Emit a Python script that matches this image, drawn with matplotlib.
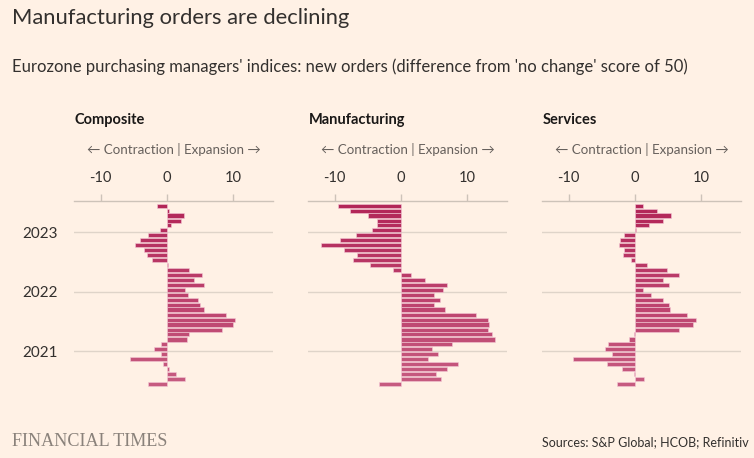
import numpy as np
import pandas as pd
import matplotlib
matplotlib.use("Agg")
import matplotlib.pyplot as plt
import matplotlib.dates as mdates
from matplotlib.colors import to_rgb

# monthly new orders index minus 50, oldest (Jun 2020) to newest (Jun 2023)
months = pd.date_range("2020-06-01", "2023-06-01", freq="MS") + pd.Timedelta(days=14)

composite = [-2.85, 2.7, 1.35, 0.3, -0.6, -5.6, -0.85, -2.0, -0.85, 3.1, 3.4, 8.35,
             9.95, 10.3, 8.85, 5.65, 5.05, 4.65, 3.2, 2.75, 5.6, 4.05, 5.25, 3.3,
             0.1, -2.2, -3.0, -3.5, -4.8, -4.0, -2.9, -1.0, 0.6, 2.1, 2.6, 0.3, -1.5]
manufacturing = [-3.35, 6.05, 5.35, 6.95, 8.65, 4.1, 5.65, 4.7, 7.75, 14.2, 13.75, 13.2,
                 13.35, 13.15, 11.35, 6.65, 5.0, 5.9, 5.0, 6.3, 6.9, 3.65, 1.6, -1.2,
                 -4.7, -7.25, -6.6, -8.6, -12.0, -9.15, -6.75, -4.35, -3.6, -3.6, -5.0, -7.6, -9.45]
services = [-2.7, 1.4, -0.1, -1.9, -4.2, -9.4, -3.4, -4.5, -4.1, -0.9, -0.2, 6.6,
            8.7, 9.2, 7.8, 5.25, 5.1, 4.2, 2.5, 1.3, 5.1, 4.2, 6.6, 4.9,
            1.8, -0.55, -1.8, -1.7, -2.4, -2.3, -1.6, 0.1, 2.2, 4.2, 5.4, 3.3, 1.3]

panels = ["Composite", "Manufacturing", "Services"]
series = [composite, manufacturing, services]
year_ticks = ["2021-01-01", "2022-01-01", "2023-01-01"]
year_labels = ["2021", "2022", "2023"]
x_ticks = [-10, 0, 10]

bg = "#fff1e5"
dark = "#33302e"
grey = "#66605c"
line_col = "#cdc3b9"

plt.rcParams["font.family"] = ["Lato", "DejaVu Sans"]

fig = plt.figure(figsize=(7.54, 4.58), dpi=100, facecolor=bg)

# older bars a bit lighter, recent ones deeper
c_old = np.array(to_rgb("#c65b80"))
c_new = np.array(to_rgb("#b22658"))
n = len(months)
bar_cols = [tuple(c_old + (c_new - c_old) * i / (n - 1)) for i in range(n)]

y = mdates.date2num(months)
lefts_px = [74, 308, 542]
W, H = 754, 458
ax_w = 199 / W
ax_bottom = 1 - 390 / H
ax_h = (390 - 200.7) / H

for k, (name, vals) in enumerate(zip(panels, series)):
    ax = fig.add_axes([lefts_px[k] / W, ax_bottom, ax_w, ax_h])
    ax.set_facecolor(bg)
    ax.barh(y, vals, height=25, color=bar_cols, edgecolor="#f4c9d6", linewidth=0.4, zorder=3)
    ax.set_xlim(-14, 16)
    ax.set_ylim(mdates.date2num(pd.Timestamp("2020-05-09")),
                mdates.date2num(pd.Timestamp("2023-07-15")))

    for s in ["bottom", "left", "right"]:
        ax.spines[s].set_visible(False)
    ax.spines["top"].set_color(line_col)
    ax.spines["top"].set_linewidth(1)

    ax.xaxis.tick_top()
    ax.set_xticks(x_ticks)
    ax.set_xticklabels([str(t) for t in x_ticks])
    ax.tick_params(axis="x", length=5, width=1, color=line_col, pad=6,
                   labelsize=10.5, labelcolor=dark)

    yt = mdates.date2num(pd.to_datetime(year_ticks))
    ax.set_yticks(yt)
    if k == 0:
        ax.set_yticklabels(year_labels)
    else:
        ax.set_yticklabels([])
    ax.tick_params(axis="y", length=0, pad=12, labelsize=11, labelcolor=dark)
    ax.grid(axis="y", color="#dfd4c9", linewidth=1, zorder=0)

    fig.text(lefts_px[k] / W + 0.001, 1 - 120 / H, name, fontsize=10.5, fontweight="bold",
             color="#1a1817", va="center", ha="left")
    fig.text(lefts_px[k] / W + ax_w / 2, 1 - 149 / H, "\u2190 Contraction | Expansion \u2192",
             fontsize=9.6, color=grey, va="center", ha="center")

fig.text(12 / W, 1 - 18 / H, "Manufacturing orders are declining", fontsize=15.8,
         color=dark, va="center", ha="left")
fig.text(12 / W, 1 - 67 / H,
         "Eurozone purchasing managers' indices: new orders (difference from 'no change' score of 50)",
         fontsize=12, color=dark, va="center", ha="left")
fig.text(12 / W, 1 - 441 / H, "FINANCIAL TIMES", fontsize=13.1, color="#8a827b",
         family="Liberation Serif", va="center", ha="left")
fig.text(749 / W, 1 - 442 / H, "Sources: S&P Global; HCOB; Refinitiv", fontsize=9.0,
         color=dark, va="center", ha="right")

fig.savefig("out.png", dpi=100, facecolor=bg)
